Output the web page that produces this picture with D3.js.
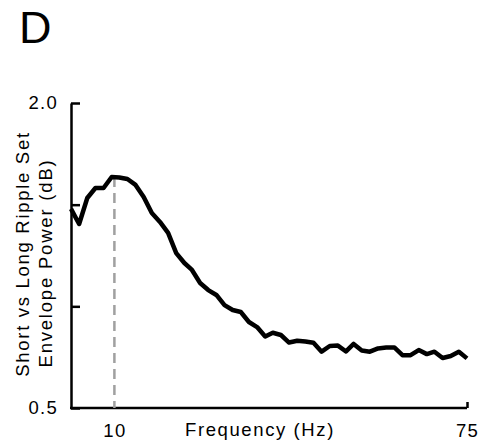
<!DOCTYPE html>
<html>
<head>
<meta charset="utf-8">
<script src="https://cdn.jsdelivr.net/npm/d3@7"></script>
<style>
  body { margin: 0; background: #fff; }
  svg text { font-family: Helvetica, Arial, "Liberation Sans", sans-serif; fill: #000; }
</style>
</head>
<body>
<svg id="chart" width="483" height="446"></svg>
<script>
// frequency bins (Hz) and short-vs-long ripple envelope power (dB)
var freqs = [2.0, 3.5, 5.0, 6.5, 8.0, 9.5, 10.9, 12.4, 13.9, 15.4,
             16.9, 18.4, 19.9, 21.4, 22.9, 24.3, 25.8, 27.3, 28.8, 30.3,
             31.8, 33.3, 34.8, 36.3, 37.8, 39.2, 40.7, 42.2, 43.7, 45.2,
             46.7, 48.2, 49.7, 51.2, 52.7, 54.1, 55.6, 57.1, 58.6, 60.1,
             61.6, 63.1, 64.6, 66.1, 67.6, 69.0, 70.5, 72.0, 73.5, 75.0];
var power = [1.479, 1.405, 1.533, 1.582, 1.582, 1.636, 1.634, 1.626, 1.597, 1.538,
             1.459, 1.415, 1.361, 1.262, 1.213, 1.179, 1.115, 1.080, 1.056, 1.006,
             0.982, 0.972, 0.923, 0.898, 0.852, 0.870, 0.859, 0.822, 0.831, 0.827,
             0.821, 0.777, 0.805, 0.807, 0.778, 0.815, 0.783, 0.777, 0.793, 0.797,
             0.798, 0.760, 0.760, 0.785, 0.765, 0.777, 0.746, 0.756, 0.777, 0.744];
var yTicks = [0.5, 1.0, 1.5, 2.0];
var yLabelled = [0.5, 2.0];
var xTicks = [10, 75];
var markFreq = 10;

var svg = d3.select("#chart");

var x = d3.scaleLinear().domain([2, 75]).range([71, 467]);
var y = d3.scaleLinear().domain([0.5, 2.0]).range([408, 103]);

// panel letter
svg.append("text").attr("x", 19).attr("y", 43).attr("font-size", 45).text("D");

// y axis, ticks pointing inwards
var yAxis = svg.append("g").attr("transform", "translate(71,0)")
    .call(d3.axisLeft(y).tickValues(yTicks).tickSize(-9).tickSizeOuter(0).tickPadding(13)
        .tickFormat(function(d){ return yLabelled.indexOf(d) >= 0 ? d.toFixed(1) : ""; }));

// x axis
var xAxis = svg.append("g").attr("transform", "translate(0,408)")
    .call(d3.axisBottom(x).tickValues(xTicks).tickSize(-6).tickSizeOuter(0).tickPadding(16)
        .tickFormat(d3.format("d")));
xAxis.selectAll(".tick").filter(function(d){ return d == markFreq; }).select("line").attr("stroke", "none");

[yAxis, xAxis].forEach(function(g){
    g.select(".domain").attr("stroke", "#000").attr("stroke-width", 2.5);
    g.selectAll(".tick line").attr("stroke-width", 2.5);
    g.selectAll(".tick text").attr("font-size", 18.5).attr("letter-spacing", 1.3)
        .style("font-family", "Helvetica, Arial, 'Liberation Sans', sans-serif").attr("fill", "#000");
});
// extend x domain line under the y axis corner
xAxis.select(".domain").attr("d", "M" + (x.range()[0] - 1) + ",0H" + x.range()[1]);

// dashed marker at peak frequency
var peak = d3.max(power);
svg.append("line")
    .attr("x1", x(markFreq)).attr("x2", x(markFreq))
    .attr("y1", y(peak)).attr("y2", y(0.5))
    .attr("stroke", "#a0a0a0").attr("stroke-width", 2.5)
    .attr("stroke-dasharray", "10,6");

// curve
var line = d3.line().x(function(d, i){ return x(freqs[i]); }).y(function(d){ return y(d); });
svg.append("path").datum(power)
    .attr("d", line)
    .attr("fill", "none").attr("stroke", "#000")
    .attr("stroke-width", 4.5).attr("stroke-linejoin", "round");

// axis titles
svg.append("text").attr("x", 260).attr("y", 436).attr("text-anchor", "middle")
    .attr("font-size", 18.5).attr("letter-spacing", 1.6).text("Frequency (Hz)");

svg.append("text").attr("transform", "translate(29,254) rotate(-90)")
    .attr("text-anchor", "middle").attr("font-size", 18.5).attr("letter-spacing", 1.7)
    .text("Short vs Long Ripple Set");
svg.append("text").attr("transform", "translate(52,263) rotate(-90)")
    .attr("text-anchor", "middle").attr("font-size", 18.5).attr("letter-spacing", 1.8)
    .text("Envelope Power (dB)");
</script>
</body>
</html>
